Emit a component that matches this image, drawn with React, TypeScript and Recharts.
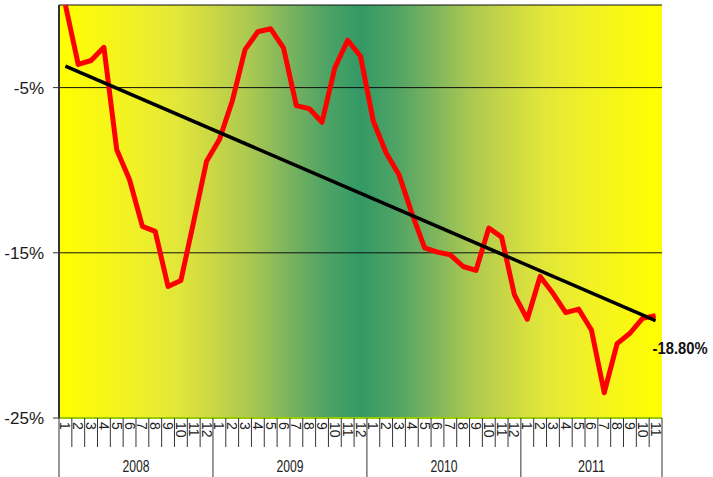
import React from "react";
import { ComposedChart, Line, XAxis, YAxis, CartesianGrid, ReferenceLine } from "recharts";

const YEARS = ["2008", "2009", "2010", "2011"];
const MONTHS_PER_YEAR = [12, 12, 12, 11];

// monthly change, %
const CHANGE = [
  0, -3.6, -3.36, -2.56, -8.76, -10.58, -13.4, -13.7, -17.04, -16.68, -13.1, -9.46,
  -8.15, -5.83, -2.7, -1.62, -1.44, -2.6, -6.09, -6.27, -7.1, -3.8, -2.13, -3.1,
  -7.04, -8.96, -10.27, -12.6, -14.7, -14.96, -15.12, -15.83, -16.07, -13.5, -14.05, -17.55,
  -19.02, -16.43, -17.45, -18.62, -18.41, -19.67, -23.47, -20.5, -19.87, -18.96, -18.8,
];

// trend line, value at first and last month
const TREND = [-3.7, -19.1];
const Y_TICKS = [-25, -15, -5];

const GREEN = "#99cc00";
const PLOT_TOP = 5;
const PLOT_BOTTOM = 418;
const CHART_W = 713;
const CHART_H = 477;
const SANS = "'Liberation Sans', Arial, sans-serif";

// yellow -> sea green -> yellow, left half (mirrored for the right)
const GRAD_STOPS: [number, string][] = [
  [0, "#ffff00"],
  [0.13, "#f0f028"],
  [0.2, "#e0e63a"],
  [0.26, "#c8d646"],
  [0.32, "#a8c852"],
  [0.38, "#7cb45e"],
  [0.44, "#50a464"],
  [0.5, "#339966"],
];

const data = YEARS.flatMap((year, yi) =>
  Array.from({ length: MONTHS_PER_YEAR[yi] }, (_, m) => ({ key: `${year}-${m + 1}`, year, month: m + 1 }))
).map((d, i) => ({ ...d, change: CHANGE[i] }));

const FALLBACK_HALF = (662 - 59) / data.length / 2;

function MonthTick(props: any) {
  const { x, payload } = props;
  const i = data.findIndex((d) => d.key === payload.value);
  if (i < 0) return null;
  const d = data[i];
  const half = payload.offset || FALLBACK_HALF;
  const left = x - half;
  const right = x + half;
  const first = d.month === 1;
  const last = i === data.length - 1;
  const yearLen = MONTHS_PER_YEAR[YEARS.indexOf(d.year)];
  const ty = PLOT_BOTTOM + 4;
  return (
    <g>
      <line x1={left} y1={PLOT_BOTTOM} x2={left} y2={first ? CHART_H : PLOT_BOTTOM + 29} stroke="#333" />
      {last && <line x1={right} y1={PLOT_BOTTOM} x2={right} y2={CHART_H} stroke="#333" />}
      <text
        x={x}
        y={ty}
        transform={`rotate(90 ${x} ${ty})`}
        dominantBaseline="central"
        fontSize={14}
        fontFamily={SANS}
        fill="#222"
      >
        {d.month}
      </text>
      {first && (
        <text
          x={left + half * yearLen}
          y={466}
          textAnchor="middle"
          dominantBaseline="central"
          fontSize={16}
          fontFamily={SANS}
          fill="#222"
          textLength={27}
          lengthAdjust="spacingAndGlyphs"
        >
          {d.year}
        </text>
      )}
    </g>
  );
}

function TopTick(props: any) {
  const { x, payload } = props;
  const i = data.findIndex((d) => d.key === payload.value);
  if (i <= 0) return null;
  const half = payload.offset || FALLBACK_HALF;
  return <line x1={x - half} y1={PLOT_TOP} x2={x - half} y2={PLOT_TOP + 4} stroke="#333" />;
}

function LastLabel(props: any) {
  const { x, y, index } = props;
  if (index !== data.length - 1) return null;
  return (
    <text
      x={x - 3}
      y={y + 33}
      dominantBaseline="central"
      fontSize={16}
      fontWeight="bold"
      fontFamily={SANS}
      fill="#111"
      textLength={55}
      lengthAdjust="spacingAndGlyphs"
    >
      {`${Number(CHANGE[index]).toFixed(2)}%`}
    </text>
  );
}

export default function App() {
  return (
    <div style={{ position: "absolute", left: 0, top: 0, background: "#fff" }}>
      <ComposedChart width={CHART_W} height={CHART_H} data={data} margin={{ top: PLOT_TOP, right: 51, bottom: 0, left: 0 }}>
        <defs>
          <linearGradient id="bg" x1="0" y1="0" x2="1" y2="0">
            {GRAD_STOPS.map(([o, c]) => (
              <stop key={`l${o}`} offset={o} stopColor={c} />
            ))}
            {[...GRAD_STOPS].reverse().map(([o, c]) => (
              <stop key={`r${o}`} offset={1 - o} stopColor={c} />
            ))}
          </linearGradient>
        </defs>
        <CartesianGrid vertical={false} fill="url(#bg)" fillOpacity={1} stroke="#111" strokeWidth={1} />
        <XAxis
          dataKey="key"
          scale="band"
          height={CHART_H - PLOT_BOTTOM}
          interval={0}
          axisLine={{ stroke: GREEN, strokeWidth: 2 }}
          tickLine={false}
          tick={<MonthTick />}
        />
        <XAxis
          xAxisId="top"
          orientation="top"
          dataKey="key"
          scale="band"
          height={0}
          interval={0}
          axisLine={{ stroke: GREEN, strokeWidth: 2 }}
          tickLine={false}
          tick={<TopTick />}
        />
        <YAxis
          domain={[-25, 0]}
          ticks={Y_TICKS}
          width={59}
          tickFormatter={(v) => `${v}%`}
          axisLine={{ stroke: "#333", strokeWidth: 2 }}
          tickLine={{ stroke: "#333" }}
          tickSize={6}
          tickMargin={9}
          tick={{ fontSize: 17, fontFamily: SANS, fill: "#1a1a1a" }}
        />
        <YAxis
          yAxisId="right"
          orientation="right"
          domain={[-25, 0]}
          width={0}
          tick={false}
          tickLine={false}
          axisLine={{ stroke: GREEN, strokeWidth: 2 }}
        />
        <Line
          dataKey="change"
          stroke="#ff0000"
          strokeWidth={5}
          strokeLinejoin="round"
          dot={false}
          isAnimationActive={false}
          label={<LastLabel />}
        />
        <Line xAxisId="top" yAxisId="right" dataKey="change" stroke="none" dot={false} activeDot={false} isAnimationActive={false} />
        <ReferenceLine
          segment={[
            { x: data[0].key, y: TREND[0] },
            { x: data[data.length - 1].key, y: TREND[1] },
          ]}
          stroke="#000"
          strokeWidth={3.5}
        />
      </ComposedChart>
    </div>
  );
}
